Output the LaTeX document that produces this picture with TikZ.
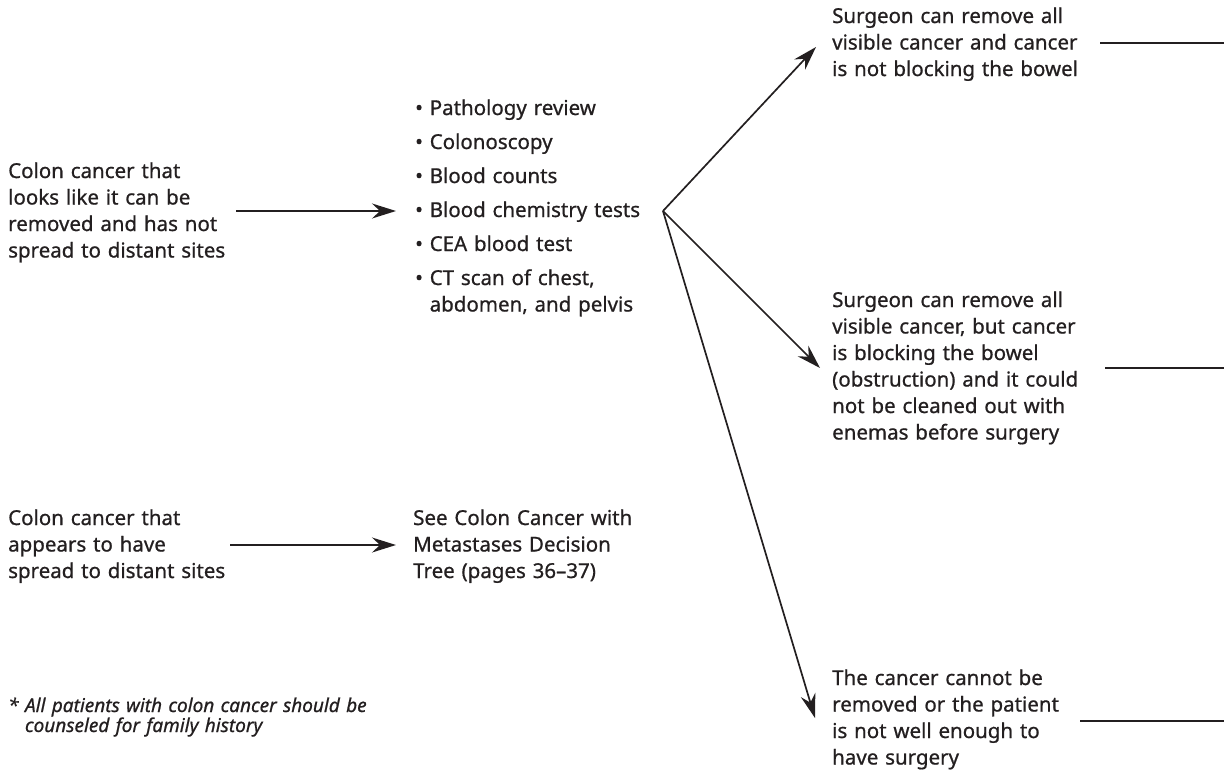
\documentclass[tikz,border=0pt]{standalone}
\usepackage{fontspec}
\setmainfont{Noto Sans}[RawFeature={embolden=0.8}]
\usetikzlibrary{arrows.meta}
\definecolor{ink}{HTML}{231F20}
\begin{document}
\begin{tikzpicture}[x=1pt,y=-1pt,
  txt/.style={anchor=base west,inner sep=0pt,text width=280pt,align=left,
    text=ink,font=\fontsize{20.5}{26.5}\selectfont},
  note/.style={anchor=base west,inner sep=0pt,text width=420pt,align=left,
    text=ink,font=\fontsize{19}{20}\selectfont\itshape},
  conn/.style={draw=ink,line width=1.7pt},
  arr/.style={conn,-{Stealth[length=24pt,width=15pt,inset=8pt]}}]
\useasboundingbox (0,0) rectangle (1224,769);

% entry conditions
\node[txt] (resect) at (8,178) {Colon cancer that\\looks like it can be\\removed and has not\\spread to distant sites};
\node[txt] (meta) at (8,525) {Colon cancer that\\appears to have\\spread to distant sites};

% work-up list
\node[txt] (workup) at (415,115) {%
\textbullet\ Pathology review\\[7.5pt]
\textbullet\ Colonoscopy\\[7.5pt]
\textbullet\ Blood counts\\[7.5pt]
\textbullet\ Blood chemistry tests\\[7.5pt]
\textbullet\ CEA blood test\\[7.5pt]
\textbullet\ CT scan of chest,\\
\phantom{\textbullet\ }abdomen, and pelvis};
\node[txt] (seetree) at (413,525) {See Colon Cancer with\\Metastases Decision\\Tree (pages 36--37)};

% surgical outcomes
\node[txt] (clear) at (832,23) {Surgeon can remove all\\visible cancer and cancer\\is not blocking the bowel};
\node[txt] (obstr) at (832,307) {Surgeon can remove all\\visible cancer, but cancer\\is blocking the bowel\\(obstruction) and it could\\not be cleaned out with\\enemas before surgery};
\node[txt] (unres) at (832,685) {The cancer cannot be\\removed or the patient\\is not well enough to\\have surgery};

% footnote
\node[note] (foot) at (8,712) {*\ All patients with colon cancer should be\\\phantom{*\ }counseled for family history};

% connector end points
\coordinate (s1) at (236,211);
\coordinate (e1) at (396,211);
\coordinate (s2) at (230,545);
\coordinate (e2) at (396,545);
\coordinate (fork) at (663,211);
\coordinate (tclear) at (816,47);
\coordinate (tobstr) at (820,368);
\coordinate (tunres) at (815,718);
\coordinate (lclear) at (1100,43);
\coordinate (rclear) at (1224,43);
\coordinate (lobstr) at (1105,368);
\coordinate (robstr) at (1224,368);
\coordinate (lunres) at (1080,721);
\coordinate (runres) at (1224,721);

\draw[arr] (s1) -- (e1);
\draw[arr] (s2) -- (e2);
\draw[arr] (fork) -- (tclear);
\draw[arr] (fork) -- (tobstr);
\draw[arr] (fork) -- (tunres);
\draw[conn] (lclear) -- (rclear);
\draw[conn] (lobstr) -- (robstr);
\draw[conn] (lunres) -- (runres);
\end{tikzpicture}
\end{document}
